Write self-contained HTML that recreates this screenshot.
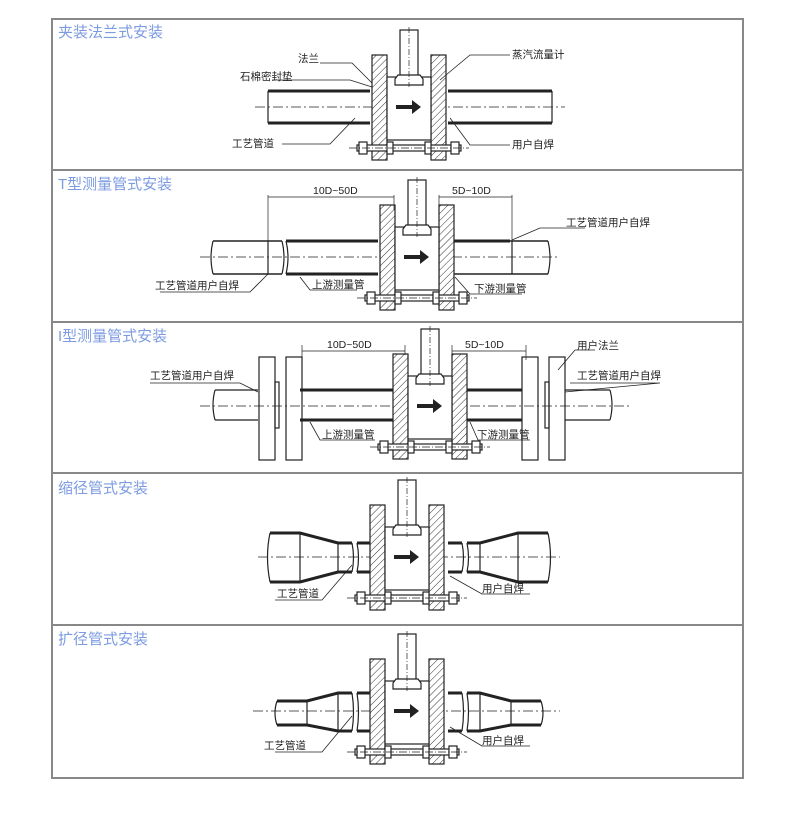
<!DOCTYPE html>
<html><head><meta charset="utf-8"><style>
body{margin:0;background:#fff}
svg{display:block}
text{font-family:"Liberation Sans","Noto Sans CJK SC",sans-serif;fill:#222}
.t{font-size:15px;fill:#7c9be0}
.l{font-size:10.5px}
</style></head><body>
<svg width="790" height="821" viewBox="0 0 790 821" xmlns="http://www.w3.org/2000/svg">
<defs>
<pattern id="h" width="5" height="5" patternUnits="userSpaceOnUse" patternTransform="rotate(45)">
<rect width="5" height="5" fill="#fff"/><line x1="0" y1="0" x2="0" y2="5" stroke="#333" stroke-width="1"/></pattern>
<g id="m" stroke="#222" fill="none" stroke-width="1.2">
 <rect x="-37" y="-52" width="15" height="105" fill="url(#h)"/>
 <rect x="22" y="-52" width="15" height="105" fill="url(#h)"/>
 <rect x="-22" y="-30" width="44" height="63" fill="#fff"/>
 <rect x="-9" y="-77" width="18" height="46" fill="#fff"/>
 <path d="M-14 -22 h28 v-6 l-3 -4 h-22 l-3 4z" fill="#fff"/>
 <line x1="0" y1="-80" x2="0" y2="-20" stroke-dasharray="6 2 1 2" stroke-width="0.7"/>
 <path d="M-13 -2 h16 v-5 l9 7 l-9 7 v-5 h-16z" fill="#222" stroke="none"/>
 <rect x="-52" y="38" width="104" height="6" fill="#fff"/>
 <rect x="-50" y="35" width="8" height="12" fill="#fff"/><rect x="42" y="35" width="8" height="12" fill="#fff"/>
 <rect x="-22" y="35" width="6" height="12" fill="#fff"/><rect x="16" y="35" width="6" height="12" fill="#fff"/>
 <line x1="-60" y1="41" x2="60" y2="41" stroke-dasharray="8 2 1 2" stroke-width="0.7"/>
</g>
</defs>
<!-- frame -->
<g stroke="#888" stroke-width="2" fill="none">
<rect x="52" y="19" width="691" height="759"/>
<line x1="52" y1="170" x2="743" y2="170"/><line x1="52" y1="322" x2="743" y2="322"/>
<line x1="52" y1="473" x2="743" y2="473"/><line x1="52" y1="625" x2="743" y2="625"/>
</g>
<text class="t" x="58" y="37">夹装法兰式安装</text>
<text class="t" x="58" y="189">T型测量管式安装</text>
<text class="t" x="58" y="341">I型测量管式安装</text>
<text class="t" x="58" y="493">缩径管式安装</text>
<text class="t" x="58" y="644">扩径管式安装</text>

<g stroke="#222" fill="none" stroke-width="1.2">
<!-- panel1 -->
<path d="M268 91 H370 M268 123 H370 M448 91 H552 M448 123 H552" stroke-width="3"/>
<path d="M268 91 V123 M552 91 V123 M375 91 V123 M443 91 V123"/>
<line x1="255" y1="107" x2="565" y2="107" stroke-dasharray="10 3 2 3" stroke-width="0.7"/>
<use href="#m" x="409" y="107"/>
<path d="M320 63 H352 L372 83 M272 80 H350 L372 87 M282 144 H330 L355 118 M510 55 H470 L440 80 M510 145 H470 L450 118" stroke-width="0.8"/>
<!-- panel2 -->
<path d="M213 241 H282 M213 274 H282 M286 241 H378 M286 274 H378 M454 241 H548 M454 274 H548" stroke-width="1.5"/>
<path d="M286 241 H378 M286 274 H378 M454 241 H510" stroke-width="3"/>
<path d="M213 241 q-4 16 0 33 M548 241 q4 16 0 33 M282 241 q4 16 0 33 M286 241 q4 16 0 33 M268 241 V274 M512 241 V274 M383 241 V274 M450 241 V274"/>
<line x1="200" y1="257" x2="560" y2="257" stroke-dasharray="10 3 2 3" stroke-width="0.7"/>
<use href="#m" x="417" y="257"/>
<path d="M268 195 V241 M394 195 V210 M439 195 V210 M512 195 V241" stroke-width="0.7"/>
<path d="M268 197 H394 M439 197 H512" stroke-width="0.7"/>
<path d="M160 292 H250 L268 274 M300 277 L310 290 H357 M455 277 L470 294 H522 M512 240 L540 228 H585" stroke-width="0.8"/>
<!-- panel3 -->
<path d="M300 390 H395 M300 420 H395 M466 390 H522 M466 420 H522" stroke-width="3"/>
<path d="M215 390 H258 M215 420 H258 M565 390 H610 M565 420 H610 M215 390 q-4 15 0 30 M610 390 q4 15 0 30"/>
<rect x="259" y="357" width="16" height="103"/><rect x="286" y="357" width="16" height="103"/>
<rect x="522" y="357" width="16" height="103"/><rect x="549" y="357" width="16" height="103"/>
<rect x="275" y="382" width="4" height="46"/><rect x="545" y="382" width="4" height="46"/>
<line x1="200" y1="406" x2="630" y2="406" stroke-dasharray="10 3 2 3" stroke-width="0.7"/>
<use href="#m" x="430" y="406"/>
<path d="M302 345 V360 M405 345 V355 M452 345 V355 M526 345 V360 M302 351 H405 M452 351 H526" stroke-width="0.7"/>
<path d="M150 383 H240 L258 392 M310 422 L320 440 H375 M470 422 L478 440 H530 M595 350 H575 L558 370 M570 383 H660 L565 392" stroke-width="0.8"/>
<!-- panel4 -->
<path d="M270 533 H300 L338 543 H352 M270 582 H300 L338 572 H352 M357 543 H370 M357 572 H370 M448 543 H462 M448 572 H462 M467 543 H480 L518 533 H548 M467 572 H480 L518 582 H548" stroke-width="3"/>
<path d="M270 533 q-5 24 0 49 M548 533 q5 24 0 49 M300 533 V582 M338 543 V572 M480 543 V572 M518 533 V582 M352 543 q3 15 0 29 M357 543 q3 15 0 29 M462 543 q3 15 0 29 M467 543 q3 15 0 29"/>
<line x1="258" y1="557" x2="560" y2="557" stroke-dasharray="10 3 2 3" stroke-width="0.7"/>
<use href="#m" x="407" y="557"/>
<path d="M275 600 H322 L352 565 M530 594 H482 L450 576" stroke-width="0.8"/>
<!-- panel5 -->
<path d="M277 701 H307 L338 693 H352 M277 725 H307 L338 731 H352 M357 693 H370 M357 731 H370 M448 693 H462 M448 731 H462 M467 693 H480 L511 701 H541 M467 731 H480 L511 725 H541" stroke-width="3"/>
<path d="M277 701 q-4 12 0 24 M541 701 q4 12 0 24 M307 701 V725 M338 693 V731 M480 693 V731 M511 701 V725 M352 693 q3 19 0 38 M357 693 q3 19 0 38 M462 693 q3 19 0 38 M467 693 q3 19 0 38"/>
<line x1="253" y1="711" x2="560" y2="711" stroke-dasharray="10 3 2 3" stroke-width="0.7"/>
<use href="#m" x="407" y="711"/>
<path d="M275 752 H322 L352 716 M530 746 H482 L450 727" stroke-width="0.8"/>
</g>
<!-- labels -->
<text class="l" x="298" y="62">法兰</text>
<text class="l" x="240" y="80">石棉密封垫</text>
<text class="l" x="232" y="147">工艺管道</text>
<text class="l" x="512" y="58">蒸汽流量计</text>
<text class="l" x="512" y="148">用户自焊</text>
<text class="l" x="313" y="194">10D~50D</text>
<text class="l" x="452" y="194">5D~10D</text>
<text class="l" x="566" y="226">工艺管道用户自焊</text>
<text class="l" x="155" y="289">工艺管道用户自焊</text>
<text class="l" x="312" y="288">上游测量管</text>
<text class="l" x="474" y="292">下游测量管</text>
<text class="l" x="327" y="348">10D~50D</text>
<text class="l" x="465" y="348">5D~10D</text>
<text class="l" x="577" y="349">用户法兰</text>
<text class="l" x="150" y="379">工艺管道用户自焊</text>
<text class="l" x="577" y="379">工艺管道用户自焊</text>
<text class="l" x="322" y="438">上游测量管</text>
<text class="l" x="477" y="438">下游测量管</text>
<text class="l" x="277" y="597">工艺管道</text>
<text class="l" x="482" y="592">用户自焊</text>
<text class="l" x="264" y="749">工艺管道</text>
<text class="l" x="482" y="744">用户自焊</text>
</svg>
</body></html>
